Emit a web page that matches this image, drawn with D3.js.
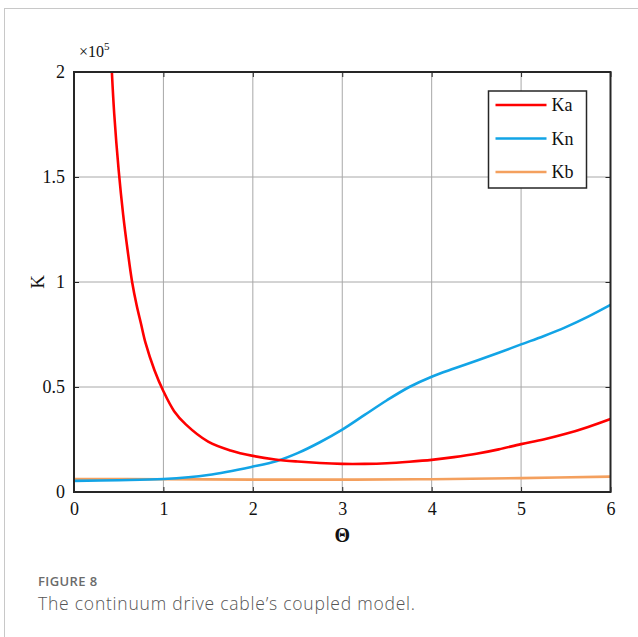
<!DOCTYPE html>
<html>
<head>
<meta charset="utf-8">
<script src="https://cdn.jsdelivr.net/npm/d3@7"></script>
<style>
  body { margin: 0; background: #fff; }
  svg { display: block; }
</style>
</head>
<body>
<div class="chart"></div>
<script>
// Values (K in units of 1e5)
var thetaKa = [0.42, 0.45, 0.5, 0.55, 0.6, 0.65, 0.7, 0.75, 0.8, 0.9, 1.0, 1.12, 1.25, 1.5, 1.75, 2.0, 2.25, 2.5, 2.75, 3.0, 3.25, 3.5, 3.75, 4.0, 4.25, 4.5, 4.75, 5.0, 5.25, 5.5, 5.75, 6.0];
var valueKa = [2.03, 1.8, 1.53, 1.32, 1.15, 1.0, 0.89, 0.8, 0.71, 0.58, 0.48, 0.385, 0.322, 0.24, 0.198, 0.172, 0.155, 0.145, 0.138, 0.134, 0.134, 0.137, 0.144, 0.153, 0.166, 0.182, 0.203, 0.228, 0.25, 0.277, 0.31, 0.348];

var thetaKn = [0, 0.5, 1.0, 1.5, 2.0, 2.27, 2.5, 2.75, 3.0, 3.25, 3.5, 3.75, 4.0, 4.25, 4.5, 4.75, 5.0, 5.25, 5.5, 5.75, 6.0];
var valueKn = [0.053, 0.056, 0.062, 0.081, 0.121, 0.148, 0.185, 0.237, 0.297, 0.367, 0.437, 0.5, 0.549, 0.588, 0.625, 0.663, 0.703, 0.742, 0.785, 0.835, 0.891];

var thetaKb = [0, 1, 2, 3, 4, 5, 6];
var valueKb = [0.062, 0.061, 0.059, 0.059, 0.061, 0.066, 0.073];

var xTicks = [0, 1, 2, 3, 4, 5, 6];
var yTicks = [0, 0.5, 1, 1.5, 2];

var seriesNames = ["Ka", "Kn", "Kb"];
var seriesColors = ["#ff0000", "#12a4e6", "#f4a05e"];

// SVG area
var svgWidth = 638;
var svgHeight = 637;
var margin = {top: 72, right: 27.5, bottom: 145, left: 74};
var width = svgWidth - margin.left - margin.right;
var height = svgHeight - margin.top - margin.bottom;

var svg = d3.select(".chart").append("svg")
  .attr("width", svgWidth)
  .attr("height", svgHeight);

// light card frame
svg.append("rect")
  .attr("x", 4.5).attr("y", 8.5)
  .attr("width", 700).attr("height", 700)
  .attr("fill", "none")
  .attr("stroke", "#c8c8c8")
  .attr("stroke-width", 1);

var chart = svg.append("g")
  .attr("transform", "translate(" + margin.left + "," + margin.top + ")");

var xScale = d3.scaleLinear().domain([0, 6]).range([0, width]);
var yScale = d3.scaleLinear().domain([0, 2]).range([height, 0]);

// grid
chart.append("g").selectAll("line")
  .data(xTicks.slice(1, -1)).enter().append("line")
  .attr("x1", function(d) { return xScale(d); })
  .attr("x2", function(d) { return xScale(d); })
  .attr("y1", 0).attr("y2", height)
  .attr("stroke", "#a8a8a8").attr("stroke-width", 1);
chart.append("g").selectAll("line")
  .data(yTicks.slice(1, -1)).enter().append("line")
  .attr("y1", function(d) { return yScale(d); })
  .attr("y2", function(d) { return yScale(d); })
  .attr("x1", 0).attr("x2", width)
  .attr("stroke", "#a8a8a8").attr("stroke-width", 1);

// curves
var line = d3.line()
  .x(function(d) { return xScale(d[0]); })
  .y(function(d) { return yScale(d[1]); })
  .curve(d3.curveCatmullRom.alpha(0.5));

chart.append("clipPath").attr("id", "plotclip")
  .append("rect").attr("x", 0).attr("y", 0).attr("width", width).attr("height", height);

var series = [
  d3.zip(thetaKa, valueKa),
  d3.zip(thetaKn, valueKn),
  d3.zip(thetaKb, valueKb)
];

var curves = chart.append("g").attr("clip-path", "url(#plotclip)");
[2, 1, 0].forEach(function(i) {
  curves.append("path")
    .datum(series[i])
    .attr("d", line)
    .attr("fill", "none")
    .attr("stroke", seriesColors[i])
    .attr("stroke-width", 2.6);
});

// axes (box with inward ticks on all sides)
var tickFont = "'Liberation Serif', 'Times New Roman', serif";

var bottomAxis = d3.axisBottom(xScale).tickValues(xTicks).tickSizeInner(-5).tickSizeOuter(0).tickPadding(10).tickFormat(d3.format("d"));
var topAxis = d3.axisTop(xScale).tickValues(xTicks).tickSizeInner(-5).tickSizeOuter(0).tickFormat("");
var leftAxis = d3.axisLeft(yScale).tickValues(yTicks).tickSizeInner(-5).tickSizeOuter(0).tickPadding(9).tickFormat(d3.format("~g"));
var rightAxis = d3.axisRight(yScale).tickValues(yTicks).tickSizeInner(-5).tickSizeOuter(0).tickFormat("");

function styleAxis(g) {
  g.select(".domain").remove();
  g.selectAll(".tick line").attr("stroke", "#262626").attr("stroke-width", 1);
  g.selectAll("text").attr("fill", "#111").style("font-family", tickFont).style("font-size", "18px");
}

chart.append("g").attr("transform", "translate(0," + height + ")").call(bottomAxis).call(styleAxis);
chart.append("g").call(topAxis).call(styleAxis);
chart.append("g").call(leftAxis).call(styleAxis);
chart.append("g").attr("transform", "translate(" + width + ",0)").call(rightAxis).call(styleAxis);

chart.append("rect")
  .attr("x", 0).attr("y", 0).attr("width", width).attr("height", height)
  .attr("fill", "none").attr("stroke", "#262626").attr("stroke-width", 2);

// exponent label
var expo = chart.append("text")
  .attr("x", 5).attr("y", -15)
  .style("font-family", tickFont).style("font-size", "16px").attr("fill", "#111");
expo.append("tspan").text("\u00d710");
expo.append("tspan").attr("dy", -7).style("font-size", "11px").text("5");

// axis titles
chart.append("text")
  .attr("transform", "translate(-30," + (height / 2) + ") rotate(-90)")
  .attr("text-anchor", "middle")
  .style("font-family", tickFont).style("font-size", "19px").attr("fill", "#111")
  .text("K");

chart.append("text")
  .attr("x", width / 2).attr("y", height + 50)
  .attr("text-anchor", "middle")
  .style("font-family", tickFont).style("font-size", "20px").style("font-weight", "bold").attr("fill", "#111")
  .text("\u0398");

// legend
var legend = chart.append("g").attr("transform", "translate(" + (488.5 - margin.left) + "," + (91 - margin.top) + ")");
legend.append("rect")
  .attr("width", 98).attr("height", 97)
  .attr("fill", "#fff").attr("stroke", "#262626").attr("stroke-width", 1.5);
seriesNames.forEach(function(name, i) {
  var yy = 14 + i * 33.5;
  legend.append("line")
    .attr("x1", 7).attr("x2", 58).attr("y1", yy).attr("y2", yy)
    .attr("stroke", seriesColors[i]).attr("stroke-width", 2.6);
  legend.append("text")
    .attr("x", 63).attr("y", yy + 6)
    .style("font-family", tickFont).style("font-size", "18px").attr("fill", "#111")
    .text(name);
});

// caption
svg.append("text")
  .attr("x", 38).attr("y", 586)
  .style("font-family", "'Open Sans', sans-serif").style("font-size", "13px").style("font-weight", "600")
  .style("letter-spacing", "0.4px")
  .attr("fill", "#6b6b6b")
  .text("FIGURE 8");
svg.append("text")
  .attr("x", 38).attr("y", 610)
  .style("font-family", "'Open Sans', sans-serif").style("font-size", "17.5px").style("font-weight", "300")
  .attr("textLength", 377).attr("lengthAdjust", "spacing")
  .attr("fill", "#555")
  .text("The continuum drive cable\u2019s coupled model.");
</script>
</body>
</html>
